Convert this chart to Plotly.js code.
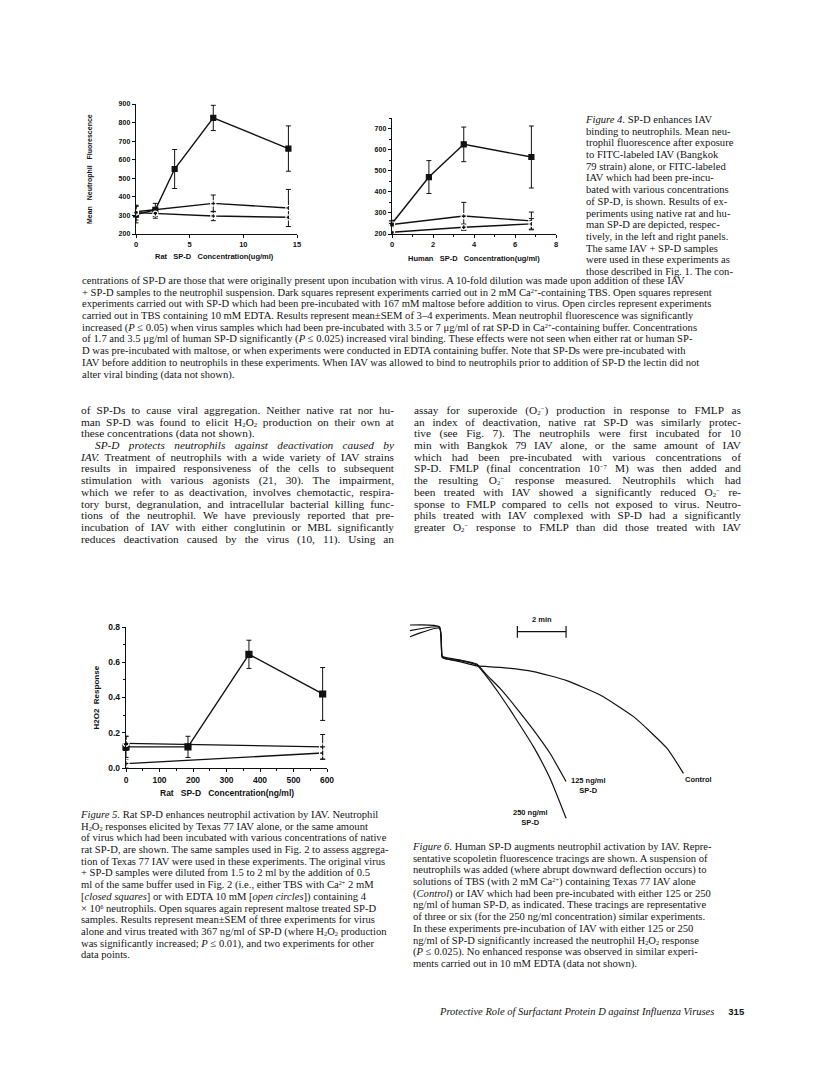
<!DOCTYPE html>
<html>
<head>
<meta charset="utf-8">
<script src="https://cdn.plot.ly/plotly-3.0.1.min.js"></script>
<style>
  body { margin: 0; background: #fff; }
  #page { position: relative; width: 816px; height: 1068px; overflow: hidden;
          font-family: "Liberation Serif", "Times New Roman", serif; color: #151515; }
  .plot, .blk { position: absolute; }
  .ln { height: 11.7px; line-height: 11.7px; white-space: nowrap; }
  .j { text-align: justify; text-align-last: justify; white-space: normal; }
  sup, sub { font-size: 0.6em; line-height: 0; }
  sup { vertical-align: 0.45em; }
  sub { vertical-align: -0.15em; }
  .cap { font-size: 10.6px; }
  .body { font-size: 11.3px; }
</style>
</head>
<body>
<div id="page">
  <div id="fig4a" class="plot" style="left:60px;top:90px;width:250px;height:180px"></div>
  <div id="fig4b" class="plot" style="left:330px;top:100px;width:240px;height:175px"></div>
  <div id="fig5" class="plot" style="left:60px;top:615px;width:285px;height:185px"></div>
  <div id="fig6" class="plot" style="left:400px;top:610px;width:347px;height:240px"></div>
</div>
<script>
// Figure 4, left panel: rat SP-D (ug/ml) vs mean neutrophil fluorescence
const ratConc = [0, 1.8, 3.6, 7.2, 14.2];
const ratCaFluor = [305, 330, 550, 825, 660];
const ratCaErr = [45, 35, 105, 68, 122];
const ratMaltoseConc = [0, 7.2, 14.2];
const ratMaltoseFluor = [320, 365, 340];
const ratMaltoseErr = [30, 45, 100];
const ratEdtaConc = [0, 1.8, 7.2, 14.2];
const ratEdtaFluor = [315, 310, 297, 290];
const ratEdtaErr = [40, 25, 25, 10];

// Figure 4, right panel: human SP-D
const humConc = [0, 1.8, 3.5, 6.8];
const humCaFluor = [250, 470, 625, 565];
const humCaErr = [15, 78, 82, 147];
const humMaltoseConc = [0, 3.5, 6.8];
const humMaltoseFluor = [245, 285, 262];
const humMaltoseErr = [10, 65, 42];
const humEdtaConc = [0, 3.5, 6.8];
const humEdtaFluor = [208, 232, 248];
const humEdtaErr = [6, 15, 25];

// Figure 5: rat SP-D (ng/ml) vs H2O2 response
const h2o2Conc = [0, 185, 367, 587];
const h2o2Ca = [0.12, 0.12, 0.645, 0.42];
const h2o2CaErr = [0.06, 0.06, 0.08, 0.15];
const h2o2EdtaConc = [0, 587];
const h2o2Edta = [0.14, 0.12];
const h2o2EdtaErr = [0.04, 0.07];
const h2o2MaltoseConc = [0, 587];
const h2o2Maltose = [0.025, 0.085];
const h2o2MaltoseErr = [0.02, 0.035];

// Figure 6: scopoletin fluorescence tracings (time in min, arbitrary units)
const ctrlTime = [0, 1.21, 1.32, 1.44, 2.05, 2.74, 3.70, 5.07, 6.44, 7.81, 9.18, 10.55, 11.23];
const ctrlFluor = [100, 99.1, 83.8, 82.9, 81.2, 79.0, 78.3, 76.1, 71.5, 64.1, 53.0, 36.8, 23.9];
const sp125Time = [0, 1.21, 1.32, 1.44, 2.05, 2.74, 3.15, 3.70, 4.38, 5.07, 5.75, 6.41];
const sp125Fluor = [97.1, 98.8, 84.1, 83.4, 82.1, 80.0, 74.4, 67.5, 57.3, 46.2, 34.2, 19.7];
const sp250Time = [0, 1.21, 1.32, 1.44, 2.05, 2.74, 3.15, 3.70, 4.38, 5.07, 5.75, 6.41];
const sp250Fluor = [94.0, 98.3, 83.4, 82.7, 81.7, 79.5, 73.5, 64.1, 51.3, 37.6, 21.4, 0.9];

const SANS = 'Liberation Sans, Arial, sans-serif';
const config = { staticPlot: true, displayModeBar: false };

function series(x, y, err, symbol, size) {
  return {
    x: x, y: y, mode: 'lines+markers', cliponaxis: false,
    line: { color: '#111', width: 1.4 },
    marker: { symbol: symbol, size: size, color: symbol.includes('open') ? '#fff' : '#111',
              line: { color: '#111', width: 1.2 } },
    error_y: { type: 'data', array: err, visible: true, color: '#111', thickness: 1, width: 2.5 }
  };
}

function axis(range, dtick, fs, minor) {
  const a = {
    range: range, dtick: dtick, tick0: 0, showline: true, linecolor: '#111', linewidth: 1.3,
    ticks: 'outside', ticklen: 3, tickwidth: 1, tickcolor: '#111', showgrid: false, zeroline: false,
    tickfont: { family: SANS, size: fs, color: '#111', weight: 'bold' }, fixedrange: true
  };
  if (minor) a.minor = { dtick: minor, ticks: 'outside', ticklen: 2, tickcolor: '#111', showgrid: false };
  return a;
}

function label(text, fs, opts) {
  return Object.assign({
    text: text, showarrow: false, xref: 'paper', yref: 'paper',
    font: { family: SANS, size: fs, color: '#111', weight: 'bold' }
  }, opts);
}

const sp = '\u00a0\u00a0\u00a0';

Plotly.newPlot('fig4a', [
  series(ratConc, ratCaFluor, ratCaErr, 'square', 5),
  series(ratMaltoseConc, ratMaltoseFluor, ratMaltoseErr, 'square-open', 5),
  series(ratEdtaConc, ratEdtaFluor, ratEdtaErr, 'circle-open', 5)
], {
  width: 250, height: 180, margin: { l: 76, r: 13, t: 14, b: 36 },
  paper_bgcolor: '#fff', plot_bgcolor: '#fff', showlegend: false,
  xaxis: axis([0, 15], 5, 7.5),
  yaxis: axis([200, 900], 100, 7),
  annotations: [
    label('Rat' + sp + 'SP-D' + sp + 'Concentration(ug/ml)', 7.5, { x: 0.49, y: 0, yanchor: 'middle', yshift: -22 }),
    label('Mean' + sp + 'Neutrophil' + sp + 'Fluorescence', 7, { x: 0, y: 0.5, textangle: -90, xanchor: 'center', xshift: -46 })
  ]
}, config);

Plotly.newPlot('fig4b', [
  series(humConc, humCaFluor, humCaErr, 'square', 5),
  series(humMaltoseConc, humMaltoseFluor, humMaltoseErr, 'square-open', 5),
  series(humEdtaConc, humEdtaFluor, humEdtaErr, 'circle-open', 5)
], {
  width: 240, height: 175, margin: { l: 62, r: 14, t: 18, b: 41 },
  paper_bgcolor: '#fff', plot_bgcolor: '#fff', showlegend: false,
  xaxis: axis([0, 8], 2, 7.5, 1),
  yaxis: Object.assign(axis([200, 750], 100, 7, 50), { tickvals: [200, 300, 400, 500, 600, 700] }),
  annotations: [
    label('Human' + sp + 'SP-D' + sp + 'Concentration(ug/ml)', 7.5, { x: 0.5, y: 0, yanchor: 'middle', yshift: -24 })
  ]
}, config);

Plotly.newPlot('fig5', [
  series(h2o2Conc, h2o2Ca, h2o2CaErr, 'square', 6),
  series(h2o2EdtaConc, h2o2Edta, h2o2EdtaErr, 'circle-open', 6),
  series(h2o2MaltoseConc, h2o2Maltose, h2o2MaltoseErr, 'square-open', 6)
], {
  width: 285, height: 185, margin: { l: 66, r: 18, t: 12, b: 32 },
  paper_bgcolor: '#fff', plot_bgcolor: '#fff', showlegend: false,
  xaxis: axis([0, 600], 100, 8.5, 50),
  yaxis: Object.assign(axis([0, 0.8], 0.2, 8.5, 0.1), { tickformat: '.1f' }),
  annotations: [
    label('Rat' + sp + 'SP-D' + sp + 'Concentration(ng/ml)', 8.5, { x: 0.5, y: 0, yanchor: 'middle', yshift: -25 }),
    label('H2O2' + '\u00a0\u00a0' + 'Response', 8, { x: 0, y: 0.5, textangle: -90, xanchor: 'center', xshift: -30 })
  ]
}, config);

const traceLine = (x, y) => ({
  x: x, y: y, mode: 'lines', cliponaxis: false,
  line: { color: '#111', width: 1.2, shape: 'spline', smoothing: 0.5 }
});
const scaleStart = 4.41;
Plotly.newPlot('fig6', [
  traceLine(ctrlTime, ctrlFluor),
  traceLine(sp125Time, sp125Fluor),
  traceLine(sp250Time, sp250Fluor)
], {
  width: 347, height: 240, margin: { l: 0, r: 0, t: 0, b: 0 },
  paper_bgcolor: '#fff', plot_bgcolor: '#fff', showlegend: false,
  xaxis: { range: [-0.41, 13.84], visible: false, fixedrange: true },
  yaxis: { range: [-15.4, 107.7], visible: false, fixedrange: true },
  shapes: [
    { type: 'line', x0: scaleStart, x1: scaleStart + 2, y0: 96.6, y1: 96.6, line: { color: '#111', width: 1.2 } },
    { type: 'line', x0: scaleStart, x1: scaleStart, y0: 93.5, y1: 99.5, line: { color: '#111', width: 1.2 } },
    { type: 'line', x0: scaleStart + 2, x1: scaleStart + 2, y0: 93.5, y1: 99.5, line: { color: '#111', width: 1.2 } }
  ],
  annotations: [
    label('2 min', 7.5, { xref: 'x', yref: 'y', x: scaleStart + 1, y: 99.5, yanchor: 'bottom' }),
    label('Control', 7.5, { xref: 'x', yref: 'y', x: 11.85, y: 21.0 }),
    label('125 ng/ml<br>SP-D', 7.5, { xref: 'x', yref: 'y', x: 7.33, y: 17.6 }),
    label('250 ng/ml<br>SP-D', 7.5, { xref: 'x', yref: 'y', x: 4.93, y: 1.2 })
  ]
}, config);

// page text, line by line as set in the journal
function block(left, top, width, cls, lines, justify, ragged) {
  const b = document.createElement('div');
  b.className = 'blk ' + cls;
  b.style.left = left + 'px'; b.style.top = top + 'px'; b.style.width = width + 'px';
  lines.forEach((t, i) => {
    const d = document.createElement('div');
    d.className = 'ln' + (justify && !ragged.includes(i) ? ' j' : '');
    d.innerHTML = t;
    b.appendChild(d);
  });
  document.getElementById('page').appendChild(b);
  return b;
}

block(586, 114, 180, 'cap', [
  '<i>Figure 4.</i> SP-D enhances IAV',
  'binding to neutrophils. Mean neu-',
  'trophil fluorescence after exposure',
  'to FITC-labeled IAV (Bangkok',
  '79 strain) alone, or FITC-labeled',
  'IAV which had been pre-incu-',
  'bated with various concentrations',
  'of SP-D, is shown. Results of ex-',
  'periments using native rat and hu-',
  'man SP-D are depicted, respec-',
  'tively, in the left and right panels.',
  'The same IAV + SP-D samples',
  'were used in these experiments as',
  'those described in Fig. 1. The con-'
], false, []);

block(82, 275, 680, 'cap', [
  'centrations of SP-D are those that were originally present upon incubation with virus. A 10-fold dilution was made upon addition of these IAV',
  '+ SP-D samples to the neutrophil suspension. Dark squares represent experiments carried out in 2 mM Ca<sup>2+</sup>-containing TBS. Open squares represent',
  'experiments carried out with SP-D which had been pre-incubated with 167 mM maltose before addition to virus. Open circles represent experiments',
  'carried out in TBS containing 10 mM EDTA. Results represent mean\u00b1SEM of 3\u20134 experiments. Mean neutrophil fluorescence was significantly',
  'increased (<i>P</i> \u2264 0.05) when virus samples which had been pre-incubated with 3.5 or 7 \u03bcg/ml of rat SP-D in Ca<sup>2+</sup>-containing buffer. Concentrations',
  'of 1.7 and 3.5 \u03bcg/ml of human SP-D significantly (<i>P</i> \u2264 0.025) increased viral binding. These effects were not seen when either rat or human SP-',
  'D was pre-incubated with maltose, or when experiments were conducted in EDTA containing buffer. Note that SP-Ds were pre-incubated with',
  'IAV before addition to neutrophils in these experiments. When IAV was allowed to bind to neutrophils prior to addition of SP-D the lectin did not',
  'alter viral binding (data not shown).'
], false, []);

block(81, 405, 313, 'body', [
  'of SP-Ds to cause viral aggregation. Neither native rat nor hu-',
  'man SP-D was found to elicit H<sub>2</sub>O<sub>2</sub> production on their own at',
  'these concentrations (data not shown).',
  '<span style="display:inline-block;width:14px"></span><i>SP-D protects neutrophils against deactivation caused by</i>',
  '<i>IAV.</i> Treatment of neutrophils with a wide variety of IAV strains',
  'results in impaired responsiveness of the cells to subsequent',
  'stimulation with various agonists (21, 30). The impairment,',
  'which we refer to as deactivation, involves chemotactic, respira-',
  'tory burst, degranulation, and intracellular bacterial killing func-',
  'tions of the neutrophil. We have previously reported that pre-',
  'incubation of IAV with either conglutinin or MBL significantly',
  'reduces deactivation caused by the virus (10, 11). Using an'
], true, [2]);

block(414, 405, 327, 'body', [
  'assay for superoxide (O<sub>2</sub><sup>\u2212</sup>) production in response to FMLP as',
  'an index of deactivation, native rat SP-D was similarly protec-',
  'tive (see Fig. 7). The neutrophils were first incubated for 10',
  'min with Bangkok 79 IAV alone, or the same amount of IAV',
  'which had been pre-incubated with various concentrations of',
  'SP-D. FMLP (final concentration 10<sup>\u22127</sup> M) was then added and',
  'the resulting O<sub>2</sub><sup>\u2212</sup> response measured. Neutrophils which had',
  'been treated with IAV showed a significantly reduced O<sub>2</sub><sup>\u2212</sup> re-',
  'sponse to FMLP compared to cells not exposed to virus. Neutro-',
  'phils treated with IAV complexed with SP-D had a significantly',
  'greater O<sub>2</sub><sup>\u2212</sup> response to FMLP than did those treated with IAV'
], true, []);

block(81, 809, 330, 'cap', [
  '<i>Figure 5.</i> Rat SP-D enhances neutrophil activation by IAV. Neutrophil',
  'H<sub>2</sub>O<sub>2</sub> responses elicited by Texas 77 IAV alone, or the same amount',
  'of virus which had been incubated with various concentrations of native',
  'rat SP-D, are shown. The same samples used in Fig. 2 to assess aggrega-',
  'tion of Texas 77 IAV were used in these experiments. The original virus',
  '+ SP-D samples were diluted from 1.5 to 2 ml by the addition of 0.5',
  'ml of the same buffer used in Fig. 2 (i.e., either TBS with Ca<sup>2+</sup> 2 mM',
  '[<i>closed squares</i>] or with EDTA 10 mM [<i>open circles</i>]) containing 4',
  '\u00d7 10<sup>6</sup> neutrophils. Open squares again represent maltose treated SP-D',
  'samples. Results represent mean\u00b1SEM of three experiments for virus',
  'alone and virus treated with 367 ng/ml of SP-D (where H<sub>2</sub>O<sub>2</sub> production',
  'was significantly increased; <i>P</i> \u2264 0.01), and two experiments for other',
  'data points.'
], false, []);

block(413, 841, 345, 'cap', [
  '<i>Figure 6.</i> Human SP-D augments neutrophil activation by IAV. Repre-',
  'sentative scopoletin fluorescence tracings are shown. A suspension of',
  'neutrophils was added (where abrupt downward deflection occurs) to',
  'solutions of TBS (with 2 mM Ca<sup>2+</sup>) containing Texas 77 IAV alone',
  '(<i>Control</i>) or IAV which had been pre-incubated with either 125 or 250',
  'ng/ml of human SP-D, as indicated. These tracings are representative',
  'of three or six (for the 250 ng/ml concentration) similar experiments.',
  'In these experiments pre-incubation of IAV with either 125 or 250',
  'ng/ml of SP-D significantly increased the neutrophil H<sub>2</sub>O<sub>2</sub> response',
  '(<i>P</i> \u2264 0.025). No enhanced response was observed in similar experi-',
  'ments carried out in 10 mM EDTA (data not shown).'
], false, []);

block(440, 1006, 320, 'body', [
  '<i style="font-size:10.5px">Protective Role of Surfactant Protein D against Influenza Viruses</i>' +
  '<b style="font-family:Liberation Sans, Arial, sans-serif;font-size:9.5px;margin-left:14px">315</b>'
], false, []);
</script>
</body>
</html>
